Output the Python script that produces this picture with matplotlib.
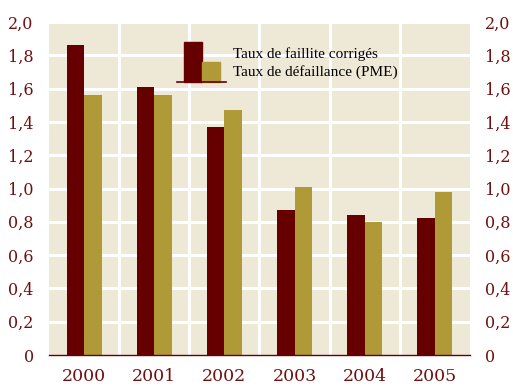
import numpy as np
import matplotlib.pyplot as plt
from matplotlib.patches import Rectangle
from matplotlib.lines import Line2D
from matplotlib.ticker import FuncFormatter

years = ['2000', '2001', '2002', '2003', '2004', '2005']
faillite = [1.86, 1.61, 1.37, 0.87, 0.84, 0.82]
defaillance = [1.56, 1.56, 1.47, 1.01, 0.80, 0.98]
series_names = ['Taux de faillite corrigés', 'Taux de défaillance (PME)']

maroon = '#660000'
gold = '#B09A38'
bg = '#EEE8D6'
label_col = '#701010'

plt.rcParams['font.family'] = ['DejaVu Serif']

fig = plt.figure(figsize=(5.13, 3.86), dpi=100)
ax = fig.add_axes([0.0955, 0.0803, 0.8205, 0.8627])
ax.set_facecolor(bg)

x = np.arange(len(years))
w = 0.25
ax.bar(x - w / 2, faillite, w, color=maroon, zorder=3)
ax.bar(x + w / 2, defaillance, w, color=gold, zorder=3)

ax.set_xlim(-0.5, len(years) - 0.5)
ax.set_ylim(0, 2.0)

# white grid: horizontal every 0.2, vertical between years
for yv in np.arange(0.2, 2.01, 0.2):
    ax.axhline(yv, color='white', lw=2.2, zorder=1)
for xv in x[:-1] + 0.5:
    ax.axvline(xv, color='white', lw=2.2, zorder=1)

yticks = np.arange(0, 2.01, 0.2)
fmt = FuncFormatter(lambda v, p: '0' if abs(v) < 1e-9 else f'{v:.1f}'.replace('.', ','))
ax.set_yticks(yticks)
ax.yaxis.set_major_formatter(fmt)
ax.set_xticks(x)
ax.set_xticklabels(years)

for s in ['top', 'left', 'right']:
    ax.spines[s].set_visible(False)
ax.spines['bottom'].set_color(maroon)
ax.spines['bottom'].set_linewidth(1.0)
ax.spines['bottom'].set_zorder(4)

ax.tick_params(axis='y', length=0, pad=11, labelsize=11.5, labelcolor=label_col)
ax.tick_params(axis='x', length=0, pad=9, labelsize=12.5, labelcolor=label_col)

ax2 = ax.twinx()
ax2.set_ylim(ax.get_ylim())
ax2.set_yticks(yticks)
ax2.yaxis.set_major_formatter(fmt)
ax2.tick_params(axis='y', length=0, pad=11, labelsize=11.5, labelcolor=label_col)
for s in ax2.spines.values():
    s.set_visible(False)

# legend key drawn by hand
ax.add_patch(Rectangle((0.321, 0.82), 0.042, 0.12, transform=ax.transAxes,
                       color=maroon, zorder=5))
ax.add_patch(Rectangle((0.363, 0.82), 0.043, 0.06, transform=ax.transAxes,
                       color=gold, zorder=5))
ax.add_line(Line2D([0.304, 0.420], [0.82, 0.82], transform=ax.transAxes,
                   color=maroon, lw=1.2, zorder=6))
ax.text(0.437, 0.905, series_names[0], transform=ax.transAxes, fontsize=11,
        family='Liberation Serif', color='black', va='center', zorder=6)
ax.text(0.437, 0.85, series_names[1], transform=ax.transAxes, fontsize=11,
        family='Liberation Serif', color='black', va='center', zorder=6)

fig.savefig('out.png', dpi=100)
